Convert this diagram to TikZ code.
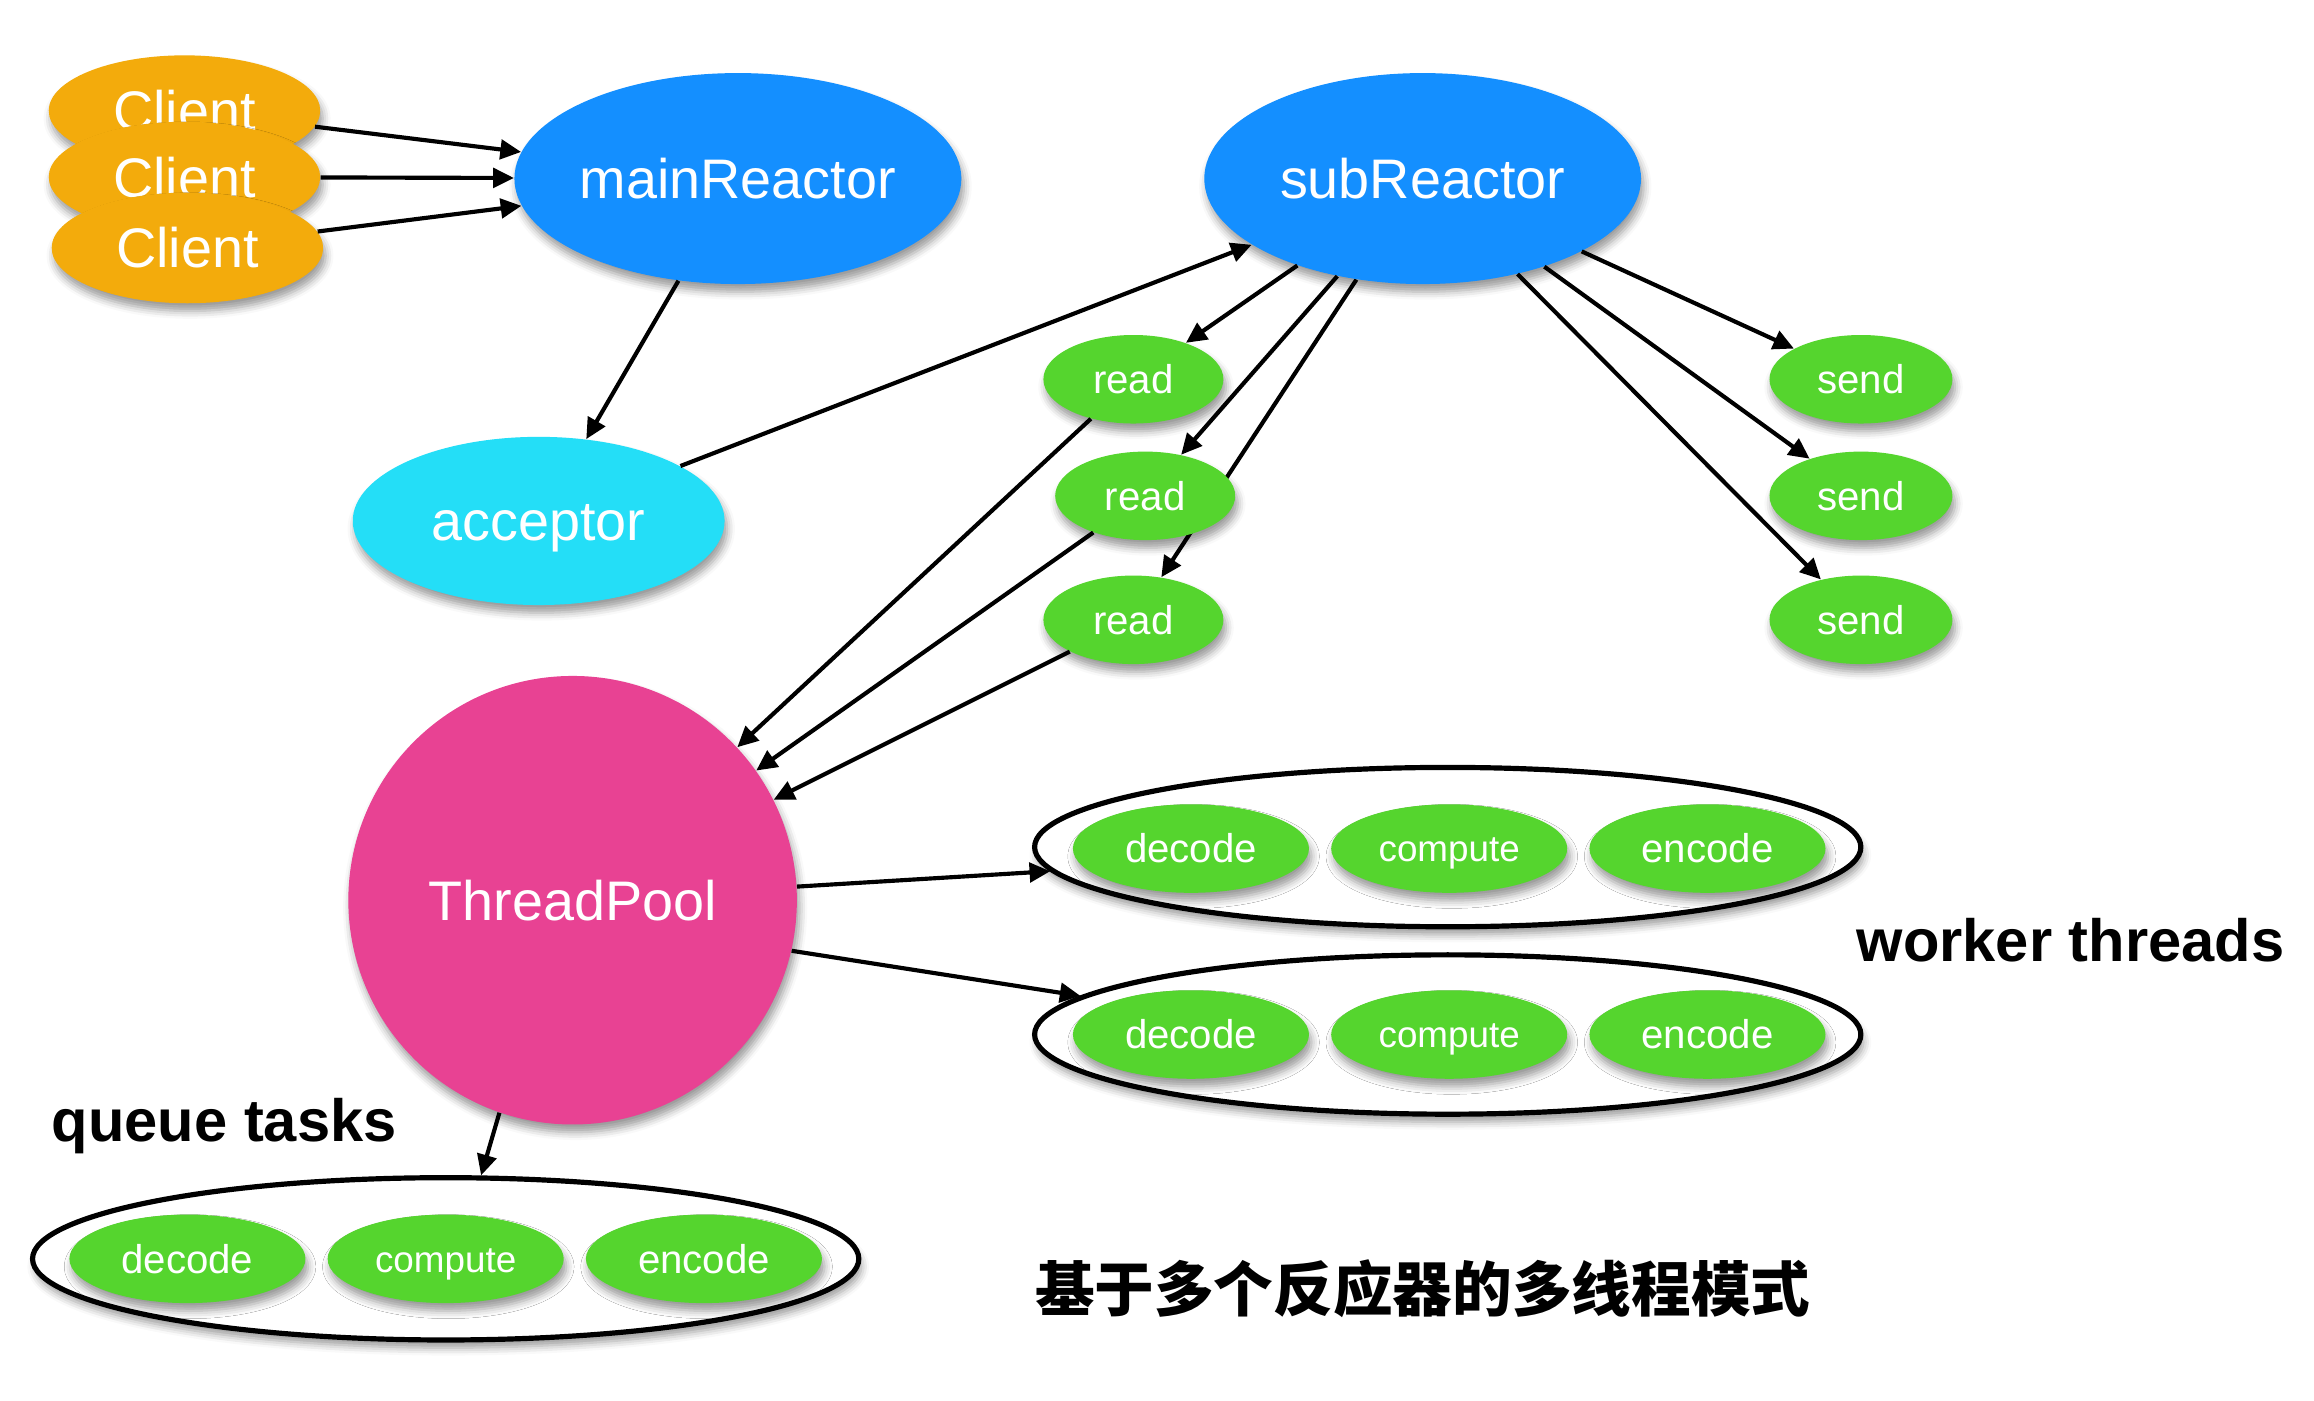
\documentclass[tikz,border=0pt]{standalone}
\usepackage{fontspec}
\setmainfont{Liberation Sans}
\newfontfamily\cjk{Noto Sans CJK SC}
\usetikzlibrary{shapes.geometric,arrows.meta,shadows.blur}
\pgfdeclarelayer{bg}
\pgfsetlayers{bg,main}
\definecolor{clientc}{RGB}{243,171,12}
\definecolor{reactorc}{RGB}{20,143,255}
\definecolor{acceptc}{RGB}{36,222,247}
\definecolor{greenc}{RGB}{85,213,46}
\definecolor{poolc}{RGB}{232,66,147}
\tikzset{
 sh/.style={blur shadow={shadow xshift=1pt, shadow yshift=-3pt, shadow blur radius=3pt, shadow opacity=40}},
 base/.style={ellipse, inner sep=0pt, text=white, sh, text depth=0pt},
 big/.style={base, font=\fontsize{21.5}{24}\selectfont, text height=15.4pt},
 client/.style={big, fill=clientc, minimum width=3.68cm, minimum height=1.5cm},
 reactor/.style={big, fill=reactorc, minimum width=5.92cm, minimum height=2.86cm},
 small/.style={base, fill=greenc, font=\fontsize{15.5}{18}\selectfont, text height=11.1pt, minimum width=2.44cm, minimum height=1.2cm},
 task/.style={small, minimum width=3.2cm},
 ctask/.style={task, font=\fontsize{14.2}{16}\selectfont, text height=10.2pt},
 group/.style={ellipse, draw, line width=2pt, fill=white, minimum width=11.2cm, minimum height=2.16cm, sh},
 arr/.style={-{Triangle[length=8pt,width=7.5pt]}, line width=1.6pt},
 lbl/.style={font=\bfseries\fontsize{23}{26}\selectfont},
 ttl/.style={font=\cjk\bfseries\fontsize{23}{26}\selectfont},
}
\begin{document}
\begin{tikzpicture}[x=0.02cm,y=-0.02cm]
\useasboundingbox (0,0) rectangle (1568,949);
% clients
\node[client] (c1) at (125,75) {Client};
\node[client] (c2) at (125,120) {Client};
\node[client] (c3) at (127,168) {Client};
% reactors
\node[reactor] (main) at (500,121) {mainReactor};
\node[reactor] (sub) at (964,121) {subReactor};
\node[big, fill=acceptc, minimum width=5.04cm, minimum height=2.28cm] (acc) at (365,353) {acceptor};
% read / send
\node[small] (r1) at (768,257) {read};
\node[small] (r2) at (776,336) {read};
\node[small] (r3) at (768,420) {read};
\node[small, minimum width=2.48cm] (s1) at (1261,257) {send};
\node[small, minimum width=2.48cm] (s2) at (1261,336) {send};
\node[small, minimum width=2.48cm] (s3) at (1261,420) {send};
% thread pool
\node[big, circle, fill=poolc, minimum size=6.08cm] (tp) at (388,610) {ThreadPool};
% worker groups
\node[group] (g1) at (981,574) {};
\node[task] (g1d) at (807,575) {decode};
\node[ctask] (g1c) at (982,575) {compute};
\node[task] (g1e) at (1157,575) {encode};
\node[group] (g2) at (981,701) {};
\node[task] (g2d) at (807,701) {decode};
\node[ctask] (g2c) at (982,701) {compute};
\node[task] (g2e) at (1157,701) {encode};
% queue group
\node[group, minimum height=2.2cm] (q) at (302,853) {};
\node[task] (qd) at (127,853) {decode};
\node[ctask] (qc) at (302,853) {compute};
\node[task] (qe) at (477,853) {encode};
% labels
\node[lbl] (lq) at (152,763) {queue tasks};
\node[lbl] (lw) at (1403,637) {worker threads};
\node[ttl] (title) at (964,873) {基于多个反应器的多线程模式};
% edges
\draw[arr] (c1) -- (main);
\draw[arr] (c2) -- (main);
\draw[arr] (c3) -- (main);
\draw[arr] (main) -- (acc);
\draw[arr] (acc) -- (sub);
\draw[arr] (sub) -- (r1);
\draw[arr] (sub) -- (r2);
\begin{pgfonlayer}{bg}
\draw[arr] (sub) -- (r3);
\end{pgfonlayer}
\draw[arr] (sub) -- (s1);
\draw[arr] (sub) -- (s2);
\draw[arr] (sub) -- (s3);
\draw[arr] (r1) -- (tp);
\draw[arr] (r2) -- (tp);
\draw[arr] (r3) -- (tp);
\draw[arr] (tp) -- (g1);
\draw[arr] (tp.-13) -- (g2.174);
\draw[arr] (tp.-109) -- (q.67);
\end{tikzpicture}
\end{document}
